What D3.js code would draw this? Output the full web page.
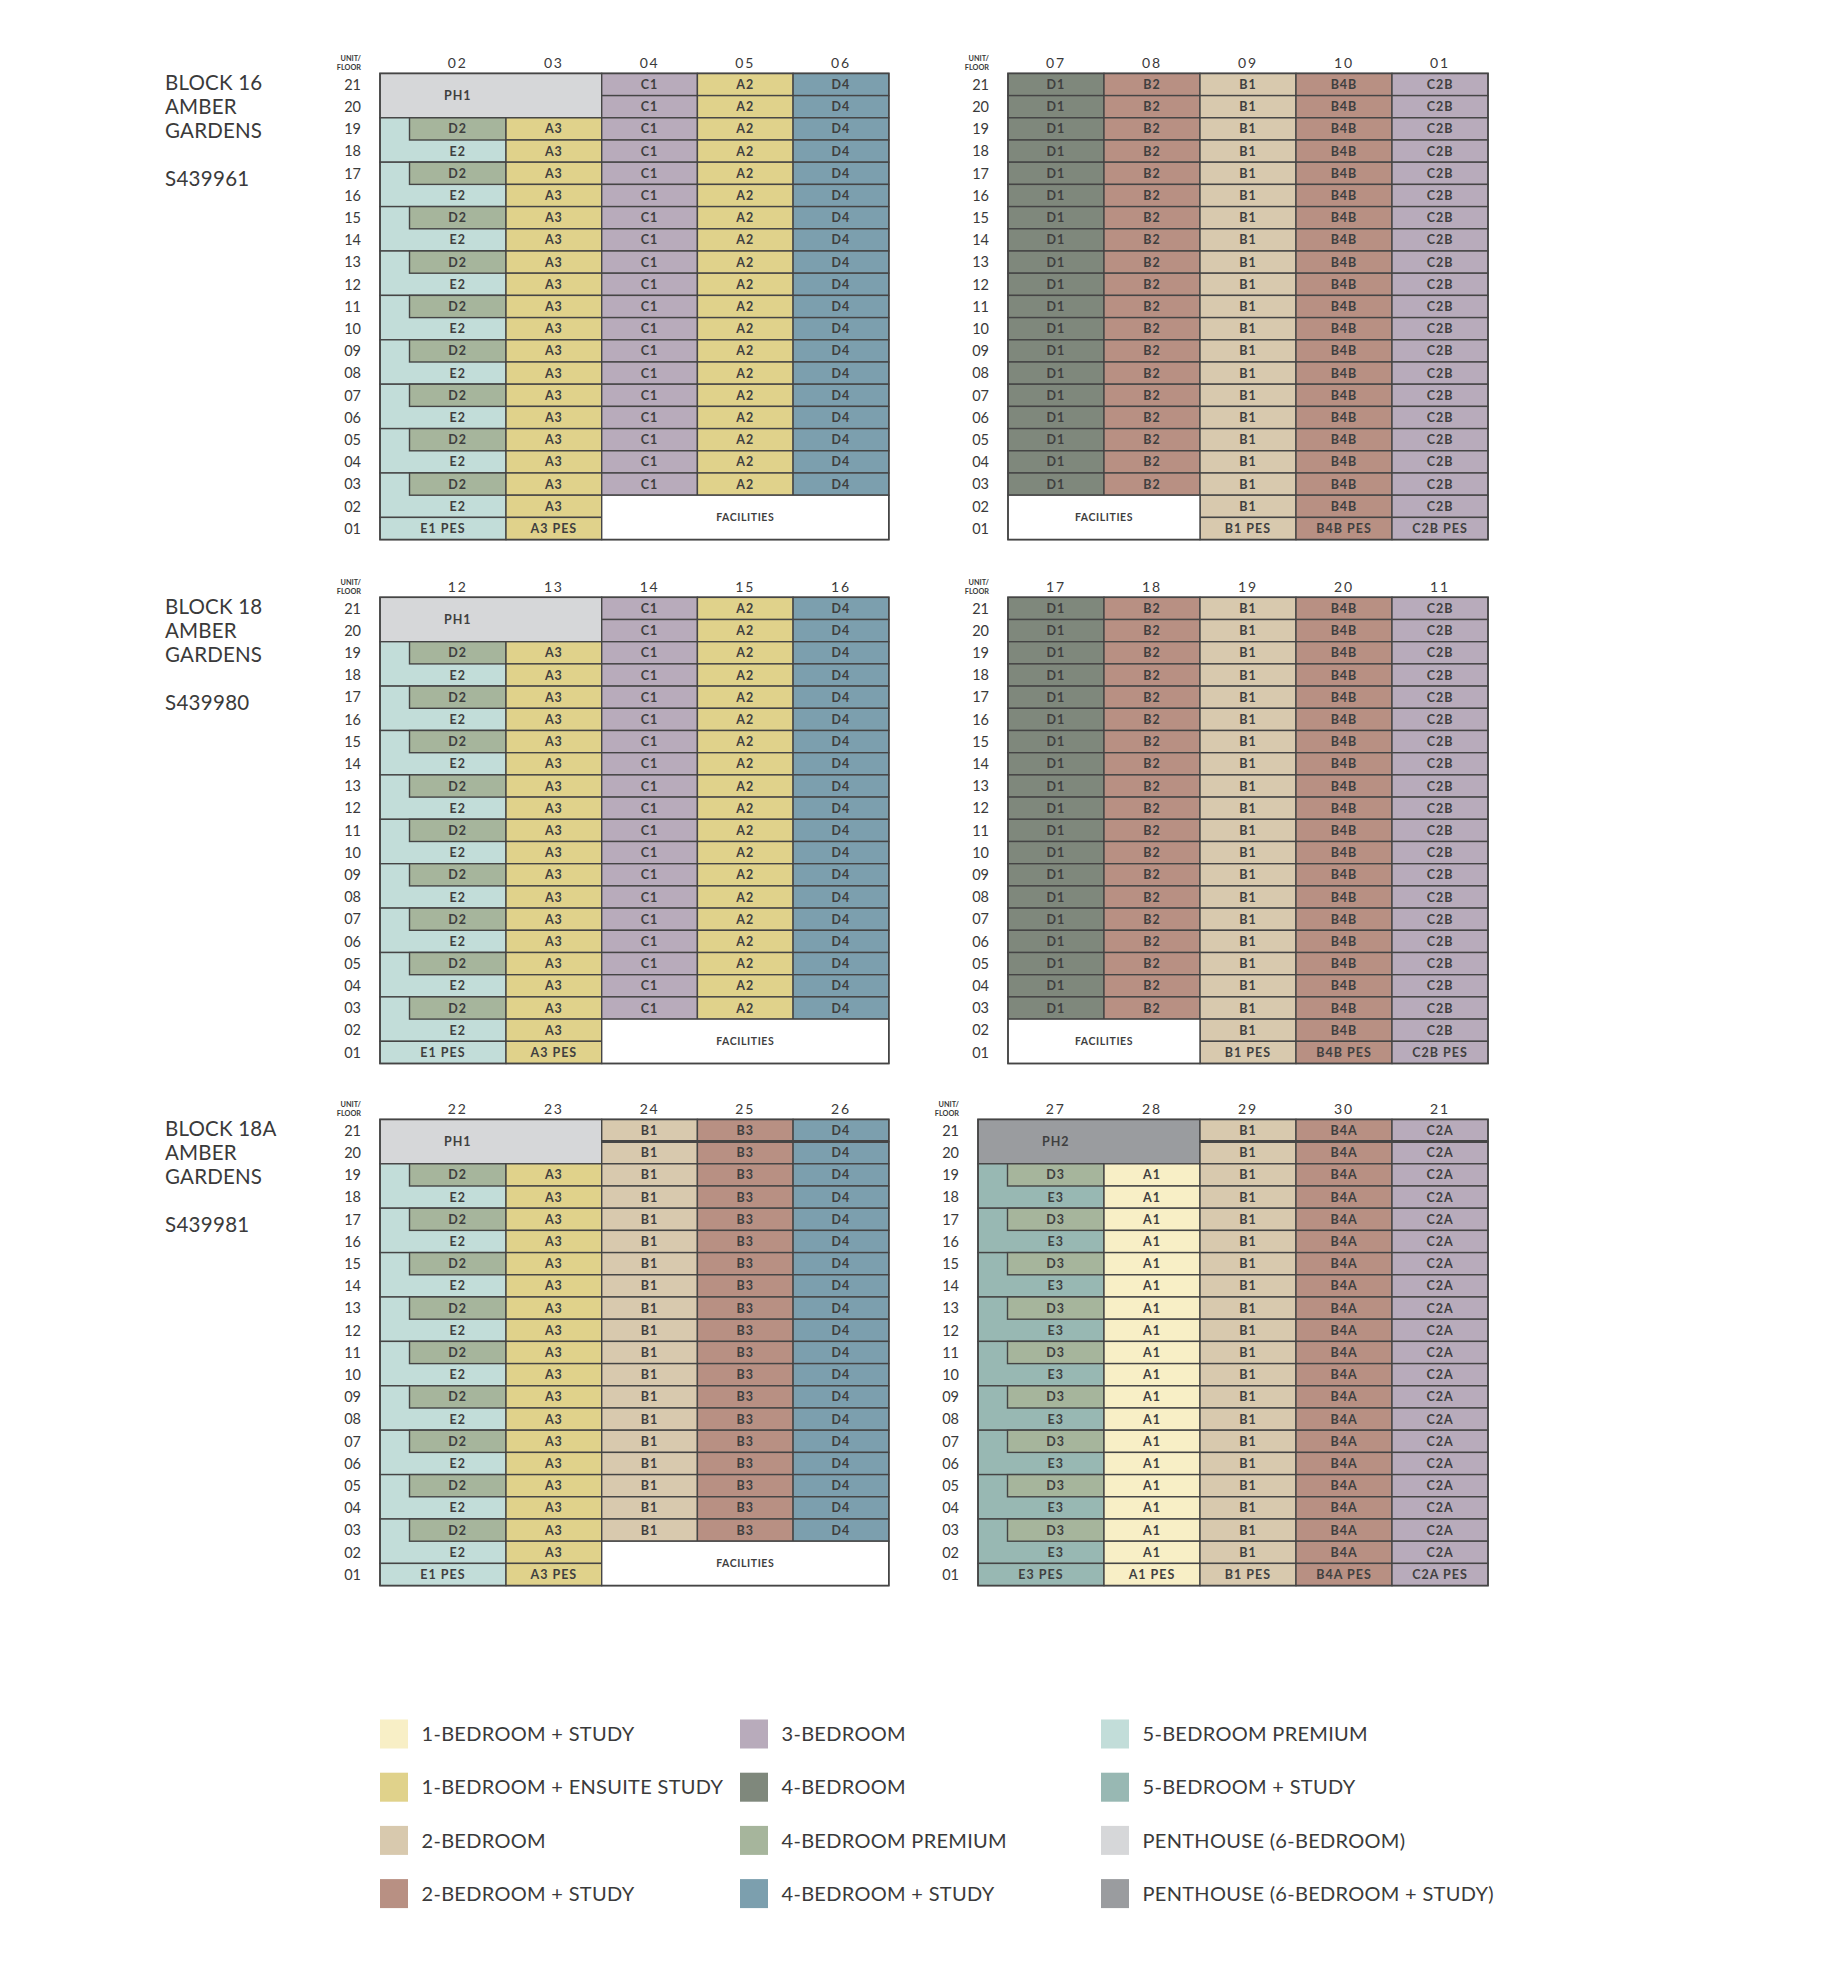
<!DOCTYPE html>
<html><head><meta charset="utf-8">
<script src="https://cdn.jsdelivr.net/npm/d3@7"></script>
<style>body{margin:0;background:#fff}svg{display:block}text{font-family:Lato,"Open Sans",sans-serif}</style>
</head><body><svg id="c" width="1828" height="1968"></svg>
<script>
// ---------- DATA ----------
const blockNames = ["BLOCK 16", "BLOCK 18", "BLOCK 18A"];
const blockStreet = ["AMBER", "GARDENS"];
const postalCodes = ["S439961", "S439980", "S439981"];
const floors = ["21","20","19","18","17","16","15","14","13","12","11","10","09","08","07","06","05","04","03","02","01"];
const legendLabels = ["1-BEDROOM + STUDY", "1-BEDROOM + ENSUITE STUDY", "2-BEDROOM", "2-BEDROOM + STUDY",
  "3-BEDROOM", "4-BEDROOM", "4-BEDROOM PREMIUM", "4-BEDROOM + STUDY",
  "5-BEDROOM PREMIUM", "5-BEDROOM + STUDY", "PENTHOUSE (6-BEDROOM)", "PENTHOUSE (6-BEDROOM + STUDY)"];
const legendColors = ["#f8efc6", "#e0d28b", "#d8c9ae", "#b89083", "#b8abbb", "#7f887c",
  "#a6b59c", "#7c9fae", "#c2ddd9", "#98b8b3", "#d6d7d9", "#9a9c9f"];
const unitCodes    = ["A1","A2","A3","B1","B2","B3","B4A","B4B","C1","C2A","C2B","D1","D2","D3","D4","E1","E2","E3","PH1","PH2"];
const unitCodeType = [0,   1,   1,   2,   3,   3,   3,    3,    4,   4,    4,    5,   6,   6,   7,   8,   8,   9,   10,   11];
const gridBlock = [0, 0, 1, 1, 2, 2];
const gridSide  = [0, 1, 0, 1, 0, 1];
const gridUnitNumbers = [
  ["02","03","04","05","06"], ["07","08","09","10","01"],
  ["12","13","14","15","16"], ["17","18","19","20","11"],
  ["22","23","24","25","26"], ["27","28","29","30","21"]];
const gridPenthouse  = ["PH1", null, "PH1", null, "PH1", "PH2"];
const gridPremiumCol = [["E2","D2","E1"], null, ["E2","D2","E1"], null, ["E2","D2","E1"], ["E3","D3","E3"]];
const gridSecondCol  = ["A3", null, "A3", null, "A3", "A1"];
const gridStackCols  = [["C1","A2","D4"], ["D1","B2","B1","B4B","C2B"], ["C1","A2","D4"],
  ["D1","B2","B1","B4B","C2B"], ["B1","B3","D4"], ["B1","B4A","C2A"]];
const gridFacilities = [[2,4], [0,1], [2,4], [0,1], [2,4], null];
const facilitiesLabel = "FACILITIES";
const pesSuffix = " PES";
const unitFloorLabel = ["UNIT/", "FLOOR"];

// ---------- LAYOUT ----------
const svg = d3.select("#c");
const ROW = 22.2;
const blockTop = [73.4, 597.3, 1119.4];
const INK = "#3f3f3f";
const color = d3.scaleOrdinal().domain(legendLabels).range(legendColors);
const fillOf = code => color(legendLabels[unitCodeType[unitCodes.indexOf(code)]]);

// block titles
blockNames.forEach((name, b) => {
  const t = blockTop[b];
  const g = svg.append("g").attr("fill", "#3a3a3a").style("font-size", "20.5px").style("letter-spacing", "0.2px");
  [name, ...blockStreet].forEach((s, i) => g.append("text").attr("x", 165).attr("y", t + 16.8 + i * 23.7).text(s));
  g.append("text").attr("x", 165).attr("y", t + 112.4).style("letter-spacing", "0.3px").text(postalCodes[b]);
});

gridUnitNumbers.forEach((units, gi) => {
  const b = gridBlock[gi], side = gridSide[gi], top = blockTop[b];
  const premium = gridPremiumCol[gi];
  const wide = premium ? 126 : 96, narrow = side === 0 ? 95.7 : 96, INSET = 29.5;
  const x0 = side === 0 ? 380 : (premium ? 978 : 1008);
  const edges = [x0];
  units.forEach((u, i) => edges.push(edges[i] + (i === 0 ? wide : narrow)));
  const x = d3.scaleOrdinal().domain(units).range(edges.slice(0, units.length));
  const colW = i => edges[i + 1] - edges[i];
  const y = d3.scaleBand().domain(floors).range([top, top + ROW * floors.length]);

  const cells = [];
  const add = (c0, c1, f0, f1, code, label, opt = {}) => cells.push(Object.assign({c0, c1, f0, f1, code, label}, opt));
  let stackStart = 0;
  if (gridPenthouse[gi]) add(0, 1, "21", "20", gridPenthouse[gi], gridPenthouse[gi], {labelCol0: true});
  if (premium) {
    for (let i = 2; i < 20; i += 2) {
      add(0, 0, floors[i], floors[i + 1], premium[0], premium[0], {labelFloor: floors[i + 1], labelInset: true});
      add(0, 0, floors[i], floors[i], premium[1], premium[1], {inset: true});
    }
    add(0, 0, "01", "01", premium[2], premium[2] + pesSuffix);
    for (let i = 2; i < 20; i++) add(1, 1, floors[i], floors[i], gridSecondCol[gi], gridSecondCol[gi]);
    add(1, 1, "01", "01", gridSecondCol[gi], gridSecondCol[gi] + pesSuffix);
    stackStart = 2;
  }
  const fac = gridFacilities[gi];
  gridStackCols[gi].forEach((code, j) => {
    const c = stackStart + j;
    const underFac = fac && c >= fac[0] && c <= fac[1];
    const last = underFac ? 18 : 19;
    for (let i = 0; i <= last; i++) add(c, c, floors[i], floors[i], code, code);
    if (!underFac) add(c, c, "01", "01", code, code + pesSuffix);
  });
  if (fac) add(fac[0], fac[1], "02", "01", null, facilitiesLabel, {facilities: true});

  const g = svg.append("g");
  const cx = (c) => x(units[c]);
  g.selectAll("rect.cell").data(cells).join("rect").attr("class", "cell")
    .attr("x", d => cx(d.c0) + (d.inset ? INSET : 0))
    .attr("y", d => y(d.f0))
    .attr("width", d => cx(d.c1) + colW(d.c1) - cx(d.c0) - (d.inset ? INSET : 0))
    .attr("height", d => y(d.f1) + y.bandwidth() - y(d.f0))
    .attr("fill", d => d.facilities ? "#fff" : fillOf(d.code))
    .attr("stroke", "#454545").attr("stroke-width", 1.4);

  // thicker separator between 21 and 20 (block 18A)
  if (b === 2) {
    g.append("line").attr("x1", cx(2)).attr("x2", edges[edges.length - 1])
      .attr("y1", y("20")).attr("y2", y("20")).attr("stroke", "#454545").attr("stroke-width", 3);
  }
  // outer frame
  g.append("rect").attr("x", edges[0]).attr("y", y("21")).attr("width", edges[edges.length - 1] - edges[0])
    .attr("height", ROW * floors.length).attr("fill", "none").attr("stroke", "#454545").attr("stroke-width", 1.6);

  g.selectAll("text.lab").data(cells).join("text").attr("class", "lab")
    .attr("x", d => {
      const l = cx(d.c0) + ((d.inset || d.labelInset || (d.labelCol0 && premium)) ? INSET : 0);
      const r = d.labelCol0 ? cx(0) + colW(0) : cx(d.c1) + colW(d.c1);
      return (l + r) / 2;
    })
    .attr("y", d => {
      if (d.labelFloor) return y(d.labelFloor) + y.bandwidth() / 2;
      return (y(d.f0) + y(d.f1) + y.bandwidth()) / 2;
    })
    .attr("dy", "0.36em").attr("text-anchor", "middle")
    .attr("fill", INK).style("font-weight", 700)
    .style("font-size", d => d.facilities ? "10.5px" : "12.5px")
    .style("letter-spacing", d => d.facilities ? "0.6px" : "1px")
    .text(d => d.label);

  // column headers
  g.selectAll("text.hdr").data(units).join("text").attr("class", "hdr")
    .attr("x", (d, i) => (cx(i) + (i === 0 && premium ? INSET : 0) + cx(i) + colW(i)) / 2)
    .attr("y", top - 5).attr("text-anchor", "middle").attr("fill", "#3a3a3a")
    .style("font-size", "14px").style("letter-spacing", "1.8px").text(d => d);

  // floor labels
  g.selectAll("text.fl").data(floors).join("text").attr("class", "fl")
    .attr("x", x0 - 19).attr("y", f => y(f) + y.bandwidth() / 2).attr("dy", "0.36em")
    .attr("text-anchor", "end").attr("fill", "#3a3a3a").style("font-size", "14.5px").text(f => f);

  unitFloorLabel.forEach((s, i) => g.append("text").attr("x", x0 - 19).attr("y", top - 12.5 + i * 8.8)
    .attr("text-anchor", "end").attr("fill", "#3a3a3a").style("font-size", "7.3px").style("font-weight", 700).text(s));
});

// ---------- LEGEND ----------
const legX = [380, 740, 1101], legY0 = 1734, legDY = 53.2;
const lg = svg.append("g");
legendLabels.forEach((lab, i) => {
  const col = Math.floor(i / 4), row = i % 4;
  const cy = legY0 + row * legDY;
  lg.append("rect").attr("x", legX[col]).attr("y", cy - 14.5).attr("width", 28).attr("height", 29).attr("fill", color(lab));
  lg.append("text").attr("x", legX[col] + 41.5).attr("y", cy).attr("dy", "0.36em").attr("fill", "#3a3a3a")
    .style("font-size", "20px").style("letter-spacing", "0.3px").text(lab);
});
</script></body></html>
